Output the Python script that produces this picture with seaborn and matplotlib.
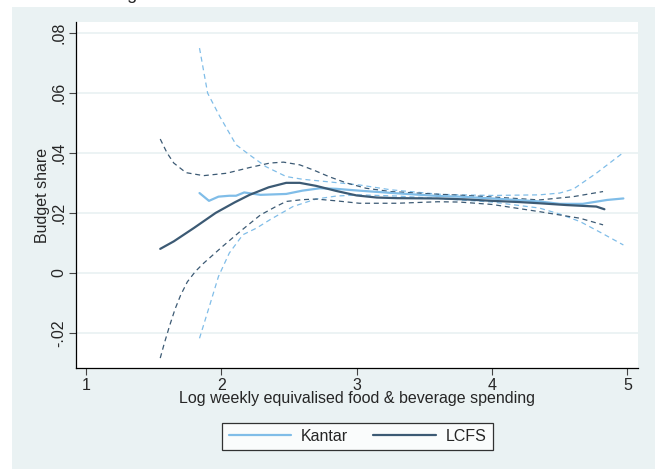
import numpy as np
import pandas as pd
from matplotlib import pyplot as plt
from matplotlib.patches import Rectangle
import seaborn as sns

# LCFS - solid line and confidence bands
lcfs_x = [1.55, 1.65, 1.80, 1.96, 2.10, 2.21, 2.35, 2.48, 2.58, 2.70, 2.85, 3.00, 3.15, 3.30, 3.60, 3.80, 4.00, 4.20, 4.35, 4.55, 4.77, 4.83]
lcfs_y = [0.0080, 0.0105, 0.0150, 0.0200, 0.0235, 0.0260, 0.0285, 0.0300, 0.0300, 0.0290, 0.0273, 0.0258, 0.0251, 0.0249, 0.0248, 0.0245, 0.0240, 0.0236, 0.0232, 0.0226, 0.0221, 0.0212]

lcfs_hi_x = [1.55, 1.60, 1.65, 1.74, 1.87, 2.04, 2.21, 2.36, 2.46, 2.58, 2.68, 2.80, 2.93, 3.07, 3.25, 3.60, 3.80, 4.00, 4.35, 4.60, 4.82]
lcfs_hi_y = [0.0446, 0.0400, 0.0366, 0.0334, 0.0324, 0.0332, 0.0351, 0.0366, 0.0369, 0.0360, 0.0343, 0.0320, 0.0299, 0.0282, 0.0271, 0.0262, 0.0258, 0.0253, 0.0243, 0.0254, 0.0271]

lcfs_lo_x = [1.55, 1.58, 1.62, 1.66, 1.70, 1.75, 1.81, 1.87, 1.94, 2.01, 2.14, 2.29, 2.40, 2.48, 2.60, 2.70, 2.85, 3.02, 3.30, 3.60, 3.76, 4.00, 4.35, 4.65, 4.82]
lcfs_lo_y = [-0.0284, -0.0235, -0.0175, -0.0120, -0.0075, -0.0030, 0.0005, 0.0032, 0.0060, 0.0088, 0.0138, 0.0193, 0.0220, 0.0238, 0.0244, 0.0246, 0.0240, 0.0232, 0.0232, 0.0237, 0.0236, 0.0228, 0.0204, 0.0182, 0.0160]

# Kantar - solid line and confidence bands
kantar_x = [1.84, 1.91, 1.98, 2.06, 2.11, 2.17, 2.29, 2.48, 2.60, 2.73, 2.85, 3.02, 3.27, 3.61, 3.76, 4.00, 4.35, 4.50, 4.67, 4.85, 4.97]
kantar_y = [0.0266, 0.0240, 0.0254, 0.0257, 0.0257, 0.0268, 0.0260, 0.0263, 0.0274, 0.0282, 0.0280, 0.0274, 0.0266, 0.0256, 0.0254, 0.0248, 0.0238, 0.0230, 0.0230, 0.0243, 0.0248]

kantar_hi_x = [1.84, 1.90, 1.99, 2.11, 2.21, 2.33, 2.48, 2.60, 2.78, 3.02, 3.25, 3.61, 3.76, 4.00, 4.35, 4.50, 4.60, 4.77, 4.97]
kantar_hi_y = [0.0749, 0.0599, 0.0521, 0.0427, 0.0393, 0.0354, 0.0321, 0.0312, 0.0304, 0.0293, 0.0277, 0.0262, 0.0260, 0.0258, 0.0260, 0.0266, 0.0279, 0.0332, 0.0401]

kantar_lo_x = [1.84, 1.92, 1.98, 2.06, 2.16, 2.26, 2.36, 2.53, 2.70, 2.85, 3.02, 3.30, 3.61, 3.76, 4.00, 4.35, 4.50, 4.65, 4.80, 4.97]
kantar_lo_y = [-0.0218, -0.0101, -0.0012, 0.0066, 0.0127, 0.0149, 0.0177, 0.0221, 0.0246, 0.0256, 0.0260, 0.0256, 0.0248, 0.0243, 0.0236, 0.0216, 0.0196, 0.0171, 0.0135, 0.0093]

x_ticks = [1, 2, 3, 4, 5]
y_ticks = [-0.02, 0, 0.02, 0.04, 0.06, 0.08]
y_ticklabels = ["-.02", "0", ".02", ".04", ".06", ".08"]

kantar_col = "#80bde8"
lcfs_col = "#3c5a74"
bg_col = "#eaf2f3"

sns.set_style("white")
plt.rcParams["font.family"] = ["Liberation Sans", "DejaVu Sans"]

fig = plt.figure(figsize = (6.55, 4.69), dpi = 100, facecolor = "white")
fig.patches.append(Rectangle((12 / 655, 0), 1, (469 - 7) / 469, transform = fig.transFigure, facecolor = bg_col, edgecolor = "none", zorder = -10))

ax = fig.add_axes([76 / 655, (469 - 368) / 469, (638 - 76) / 655, (368 - 22) / 469])
ax.set_facecolor("white")
ax.set_zorder(1)

for yv in y_ticks:
    ax.axhline(yv, color = bg_col, lw = 1.3, zorder = 0)

dash = (4, 3)
sns.lineplot(x = kantar_hi_x, y = kantar_hi_y, color = kantar_col, lw = 0.9, ax = ax, sort = False, estimator = None)
sns.lineplot(x = kantar_lo_x, y = kantar_lo_y, color = kantar_col, lw = 0.9, ax = ax, sort = False, estimator = None)
sns.lineplot(x = lcfs_hi_x, y = lcfs_hi_y, color = lcfs_col, lw = 0.9, ax = ax, sort = False, estimator = None)
sns.lineplot(x = lcfs_lo_x, y = lcfs_lo_y, color = lcfs_col, lw = 0.9, ax = ax, sort = False, estimator = None)
for ln in ax.lines[-4:]:
    ln.set_dashes(dash)

sns.lineplot(x = kantar_x, y = kantar_y, color = kantar_col, lw = 1.6, ax = ax, sort = False, estimator = None, label = "Kantar")
sns.lineplot(x = lcfs_x, y = lcfs_y, color = lcfs_col, lw = 1.6, ax = ax, sort = False, estimator = None, label = "LCFS")

ax.set_xlim(0.928, 5.078)
ax.set_ylim(-0.0317, 0.0836)
ax.set_xticks(x_ticks)
ax.set_yticks(y_ticks)
ax.set_yticklabels(y_ticklabels, rotation = 90, va = "center")
ax.tick_params(axis = "both", direction = "out", length = 5, width = 0.8, color = "#444444", labelsize = 11.5, pad = 2, bottom = True, left = True)

for side in ["top", "right"]:
    ax.spines[side].set_visible(False)
for side in ["left", "bottom"]:
    ax.spines[side].set_color("black")
    ax.spines[side].set_linewidth(0.9)

ax.set_xlabel("Log weekly equivalised food & beverage spending", fontsize = 11.5, labelpad = -1)
ax.set_ylabel("Budget share", fontsize = 11.5, labelpad = 1)

handles, labels = ax.get_legend_handles_labels()
ax.get_legend().remove()
leg = fig.legend(handles, labels, loc = "center", bbox_to_anchor = (357.5 / 655, (469 - 436.5) / 469), ncol = 2, fontsize = 11.5, frameon = True, fancybox = False, edgecolor = "black", handlelength = 3.9, columnspacing = 1.6, borderpad = 0.4, handletextpad = 0.6)
leg.get_frame().set_linewidth(0.9)
leg.get_frame().set_facecolor("white")

# bottom of a cut-off title from the panel above
fig.text(0.04, 1.012, "Food beverages", fontsize = 13, ha = "left", va = "center")

fig.savefig("out.png", dpi = 100, facecolor = fig.get_facecolor())
